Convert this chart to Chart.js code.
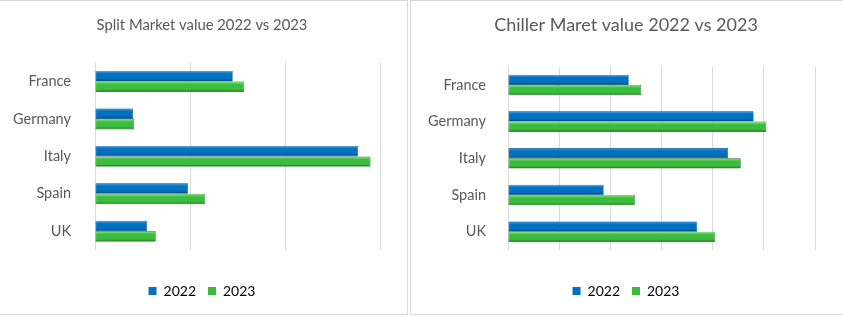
<!DOCTYPE html>
<html>
<head>
<meta charset="utf-8">
<script src="https://cdn.jsdelivr.net/npm/chart.js@4"></script>
<style>
  body { margin: 0; background: #fff; }
  .panel { position: absolute; top: 0; height: 315px; box-sizing: border-box; border: 1px solid #d9d9d9; }
  #left { left: 0; width: 408px; border-left: none; }
  #right { left: 410px; width: 433px; border-right: none; }
  canvas { display: block; }
</style>
</head>
<body>
<div class="panel" id="left"><canvas id="split"></canvas></div>
<div class="panel" id="right"><canvas id="chiller"></canvas></div>
<script>
const countries = ['France', 'Germany', 'Italy', 'Spain', 'UK'];
const seriesNames = ['2022', '2023'];
// values read against the gridlines (no axis numbers in the source)
const split2022 = [1.45, 0.40, 2.77, 0.98, 0.55];
const split2023 = [1.57, 0.41, 2.90, 1.16, 0.64];
const chiller2022 = [2.36, 4.80, 4.30, 1.87, 3.70];
const chiller2023 = [2.60, 5.05, 4.55, 2.48, 4.05];

const CAT_PCT = 0.56;
const BLUE = ['#3a9be6', '#0070c0', '#003f70'];
const GREEN = ['#7ee87e', '#3cbc3c', '#1a701a'];
const FONT = 'Lato, "Open Sans", sans-serif';

function barFill(ctx, shades) {
  const chart = ctx.chart;
  const y = chart.scales && chart.scales.y;
  if (!chart.chartArea || !y || ctx.dataIndex === undefined) return shades[1];
  const slot = (chart.chartArea.bottom - chart.chartArea.top) / chart.data.labels.length;
  const h = slot * CAT_PCT / 2;
  const c = y.getPixelForValue(ctx.dataIndex);
  const top = ctx.datasetIndex === 0 ? c - h : c;
  const g = chart.ctx.createLinearGradient(0, top, 0, top + h);
  g.addColorStop(0, shades[0]);
  g.addColorStop(0.3, shades[1]);
  g.addColorStop(0.75, shades[1]);
  g.addColorStop(1, shades[2]);
  return g;
}

function makeChart(id, o) {
  return new Chart(document.getElementById(id), {
    type: 'bar',
    data: {
      labels: countries,
      datasets: [
        { label: seriesNames[0], data: o.a, backgroundColor: c => barFill(c, BLUE), borderColor: '#00457a', borderWidth: 0.6, borderSkipped: false },
        { label: seriesNames[1], data: o.b, backgroundColor: c => barFill(c, GREEN), borderColor: '#1b6b1b', borderWidth: 0.6, borderSkipped: false }
      ]
    },
    options: {
      indexAxis: 'y',
      responsive: true,
      maintainAspectRatio: false,
      animation: false,
      categoryPercentage: CAT_PCT,
      barPercentage: 1,
      layout: { padding: o.pad },
      plugins: {
        title: { display: true, text: o.title, color: '#595959', font: { family: FONT, size: o.titleSize, weight: 'normal' }, padding: { top: 0, bottom: o.titleGap } },
        legend: {
          position: 'bottom',
          labels: {
            color: '#595959',
            font: { family: FONT, size: 14 },
            boxWidth: 8, boxHeight: 8, padding: 12,
            generateLabels: () => [
              { text: seriesNames[0], fillStyle: '#0070c0', strokeStyle: '#0070c0', lineWidth: 0, datasetIndex: 0 },
              { text: seriesNames[1], fillStyle: '#3cb83c', strokeStyle: '#3cb83c', lineWidth: 0, datasetIndex: 1 }
            ]
          }
        },
        tooltip: { enabled: false }
      },
      scales: {
        x: {
          min: 0, max: o.max,
          ticks: { display: false, stepSize: 1 },
          grid: { color: '#d9d9d9', drawTicks: false },
          border: { display: false },
          afterFit: s => { s.height = 22; }
        },
        y: {
          grid: { display: false },
          border: { display: false },
          ticks: { color: '#595959', font: { family: FONT, size: 14.5 }, padding: o.labelGap },
          afterFit: s => { s.width = o.yWidth; }
        },
        // empty spacer on the right so the title stays centred on the panel
        yRight: {
          axis: 'y', position: 'right',
          grid: { display: false },
          border: { display: false },
          ticks: { display: false },
          afterFit: s => { s.width = o.rightGap; }
        }
      }
    }
  });
}

makeChart('split', {
  title: 'Split Market value 2022 vs 2023', titleSize: 14.8, titleGap: 29,
  a: split2022, b: split2023, max: 3, yWidth: 85, labelGap: 16, rightGap: 14,
  pad: { top: 15, right: 13, bottom: 6, left: 10 }
});
makeChart('chiller', {
  title: 'Chiller Maret value 2022 vs 2023', titleSize: 18, titleGap: 31,
  a: chiller2022, b: chiller2023, max: 6, yWidth: 87, labelGap: 14, rightGap: 16,
  pad: { top: 13, right: 12, bottom: 6, left: 10 }
});
</script>
</body>
</html>
